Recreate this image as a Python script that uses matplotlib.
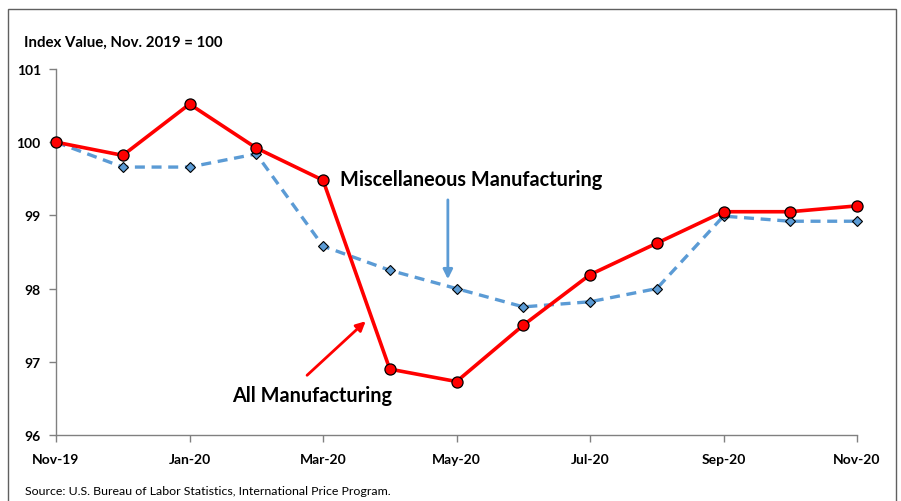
import matplotlib
matplotlib.use("Agg")
import matplotlib.pyplot as plt
from matplotlib.patches import Rectangle

months = ["Nov-19", "Dec-19", "Jan-20", "Feb-20", "Mar-20", "Apr-20", "May-20",
          "Jun-20", "Jul-20", "Aug-20", "Sep-20", "Oct-20", "Nov-20"]
all_mfg = [100.0, 99.82, 100.52, 99.92, 99.48, 96.9, 96.73, 97.5, 98.19, 98.62, 99.05, 99.05, 99.13]
misc_mfg = [100.0, 99.66, 99.66, 99.84, 98.58, 98.25, 98.0, 97.75, 97.82, 98.0, 98.99, 98.92, 98.92]
yticks = [96, 97, 98, 99, 100, 101]

plt.rcParams['font.family'] = ['Lato', 'DejaVu Sans']

fig = plt.figure(figsize=(9.01, 5.02), dpi=100)
ax = fig.add_axes([0.0622, 0.1315, 0.889, 0.7291])

x = list(range(len(months)))
ax.plot(x, misc_mfg, color="#5b9bd5", lw=2.4, ls=(0, (3, 2)), marker="D", ms=5,
        mfc="#5b9bd5", mec="black", mew=0.8, clip_on=False, zorder=3)
ax.plot(x, all_mfg, color="#ff0000", lw=2.6, marker="o", ms=8,
        mfc="#ff0000", mec="black", mew=0.9, clip_on=False, zorder=4)

ax.set_xlim(0, 12)
ax.set_ylim(96, 101)
ax.set_yticks(yticks)
ax.set_yticklabels([str(v) for v in yticks], fontweight="bold", fontsize=10)
ax.set_xticks(x[::2])
ax.set_xticklabels(months[::2], fontweight="bold", fontsize=10)
for s in ["top", "right"]:
    ax.spines[s].set_visible(False)
for s in ["left", "bottom"]:
    ax.spines[s].set_color("#808080")
    ax.spines[s].set_linewidth(1.0)
ax.tick_params(axis="both", direction="out", color="#808080", length=5, width=1)
ax.tick_params(axis="x", pad=8)
ax.tick_params(axis="y", pad=6)

ax.annotate("", xy=(5.87, 98.09), xytext=(5.87, 99.25),
            arrowprops=dict(arrowstyle="-|>", color="#5b9bd5", lw=2, mutation_scale=14))
ax.text(6.22, 99.5, "Miscellaneous Manufacturing", fontsize=14.3, fontweight="bold",
        ha="center", va="center")
ax.annotate("", xy=(4.67, 97.58), xytext=(3.73, 96.79),
            arrowprops=dict(arrowstyle="-|>", color="#ff0000", lw=2, mutation_scale=14))
ax.text(3.84, 96.54, "All Manufacturing", fontsize=14.3, fontweight="bold",
        ha="center", va="center")

fig.text(24 / 901, 1 - 43 / 502, "Index Value, Nov. 2019 = 100", fontsize=10.8,
         fontweight="bold", ha="left", va="center")
fig.text(25 / 901, 1 - 492 / 502, "Source: U.S. Bureau of Labor Statistics, International Price Program.",
         fontsize=8.9, ha="left", va="center")

fig.patches.append(Rectangle((8 / 901, -0.05), 888 / 901, 1 - 10 / 502 + 0.05,
                             transform=fig.transFigure, fill=False, ec="#606060", lw=1))

fig.savefig("out.png", dpi=100)
